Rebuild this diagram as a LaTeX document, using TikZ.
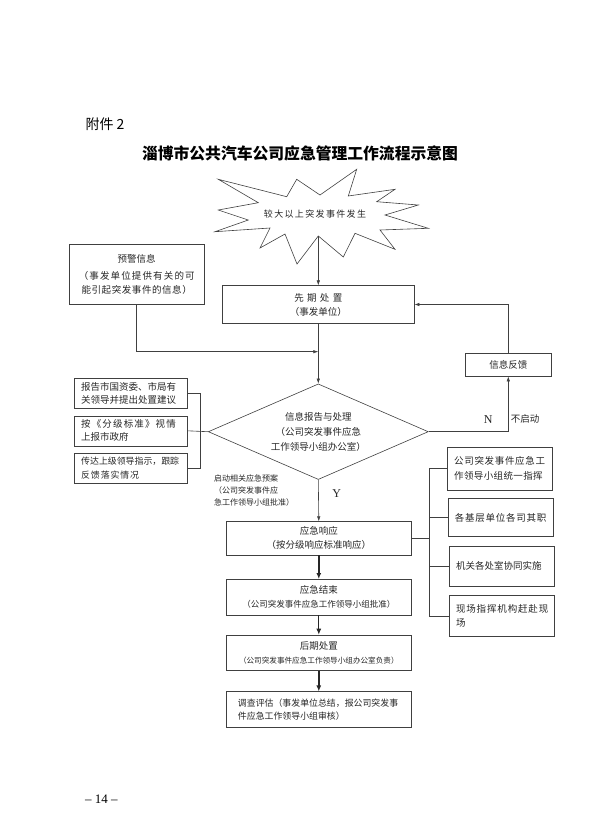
\documentclass[tikz,border=0pt]{standalone}
\usepackage{fontspec}
\setmainfont{Liberation Serif}
\newfontfamily\cjk{Noto Sans CJK SC}
\usetikzlibrary{shapes.geometric,arrows.meta}
\newcommand\widetxt[2]{{\addfontfeature{LetterSpace=#1}#2}}
\tikzset{
	box/.style={draw=black!75, line width=0.6pt, inner sep=0pt, align=center, text=black!85,
		font=\cjk\fontsize{9.5}{14}\selectfont},
	lbox/.style={box, align=left, text width=#1},
	ln/.style={draw=black!75, line width=0.6pt},
	arr/.style={ln, -{Latex[length=5pt,width=3.5pt]}},
	thickarr/.style={draw=black!85, line width=#1, -{Latex[length=6pt,width=5pt]}},
	lbl/.style={text=black!85, font=\cjk\fontsize{9.5}{14}\selectfont},
}

\begin{document}
\begin{tikzpicture}[x=1pt,y=-1pt]
	\useasboundingbox (0,0) rectangle (591,839);

	\node[anchor=west, font=\cjk\fontsize{14}{16}\selectfont] (annex) at (82,124) {附件 2};
	\node[font=\cjk\bfseries\fontsize{15.8}{20}\selectfont] (title) at (300,153.5) {淄博市公共汽车公司应急管理工作流程示意图};

	\draw[ln] (218.3,179.3) -- (286.7,196.7) -- (296.7,179.3) -- (320,195) -- (356.7,169.3)
		-- (348.3,196) -- (395,189.3) -- (376.7,201.7) -- (418.3,205) -- (385,215)
		-- (428.3,228.3) -- (380,230) -- (395,249.3) -- (355,233.3) -- (343.3,257)
		-- (318.3,236) -- (297,264) -- (285,234) -- (260,248) -- (270,228)
		-- (215,231.7) -- (248.3,220) -- (218.3,210) -- (258.3,202.7) -- cycle;
	\node[lbl, font=\cjk\fontsize{9}{12}\selectfont] (burst) at (315,214) {\widetxt{15}{较大以上突发事件发生}};
	\coordinate (burstb) at (318.3,236);

	\node[box, minimum width=191.7pt, minimum height=37.6pt] (first) at (318.3,304.5) {\widetxt{35}{先期处置}\\（事发单位）};
	\node[box, minimum width=134.7pt, minimum height=60pt] (warn) at (136.7,274.3)
		{预警信息\\[3pt]\widetxt{12}{（事发单位提供有关的可}\\\widetxt{6}{能引起突发事件的信息）}};
	\coordinate (join) at (318.3,351.7);

	\node[diamond, draw=black!75, line width=0.6pt, aspect=2.3, minimum width=220pt, minimum height=95.6pt,
		inner sep=0pt, align=center, text=black!85, font=\cjk\fontsize{9.5}{15}\selectfont] (info) at (318.3,431.7)
		{信息报告与处理\\（公司突发事件应急\\工作领导小组办公室）};

	\node[lbox=99pt, inner xsep=7pt, minimum height=30pt, font=\cjk\fontsize{9.5}{13}\selectfont] (report) at (130.7,393.3) {报告市国资委、市局有\\关领导并提出处置建议};
	\node[lbox=99pt, inner xsep=7pt, minimum height=30pt, font=\cjk\fontsize{9.5}{13}\selectfont] (grade) at (130.7,430.8) {\widetxt{12}{按《分级标准》视情}\\上报市政府};
	\node[lbox=99pt, inner xsep=7pt, minimum height=30pt, font=\cjk\fontsize{8.9}{14}\selectfont] (relay) at (130.7,468.3) {传达上级领导指示，跟踪\\\widetxt{10}{反馈落实情况}};
	\coordinate (lbus) at (200,0);

	\node[box, minimum width=86.7pt, minimum height=22.7pt] (fb) at (508.3,364.7) {信息反馈};
	\node[text=black!85, font=\fontsize{12}{14}\selectfont] (no) at (488.3,420) {N};
	\node[lbl] (nolaunch) at (525,419.3) {不启动};

	\node[anchor=west, align=left, text=black!85, font=\cjk\fontsize{8}{12}\selectfont] (launch) at (210.5,490)
		{启动相关应急预案\\（公司突发事件应\\急工作领导小组批准）};
	\node[text=black!85, font=\fontsize{12}{14}\selectfont] (yes) at (336.7,493.3) {Y};

	\node[box, minimum width=185.7pt, minimum height=33.3pt] (resp) at (318.8,538.3) {应急响应\\（按分级响应标准响应）};
	\node[box, minimum width=185.7pt, minimum height=35.7pt] (end) at (318.8,597.2)
		{应急结束\\{\fontsize{8.5}{13}\selectfont（公司突发事件应急工作领导小组批准）}};
	\node[box, minimum width=185.7pt, minimum height=35.7pt] (post) at (318.8,652.8)
		{后期处置\\{\fontsize{7.6}{13}\selectfont（公司突发事件应急工作领导小组办公室负责）}};
	\node[lbox=161.7pt, inner xsep=12pt, minimum height=35.6pt, font=\cjk\fontsize{8.9}{12.5}\selectfont] (survey) at (318.8,709.5)
		{调查评估（事发单位总结，报公司突发事\\件应急工作领导小组审核）};

	\node[lbox=92pt, inner xsep=6.5pt, minimum height=42.7pt, font=\cjk\fontsize{9.5}{15}\selectfont] (lead) at (500.2,468.7)
		{\widetxt{7}{公司突发事件应急工}\\\widetxt{4}{作领导小组统一指挥}};
	\node[lbox=92pt, inner xsep=6.5pt, minimum height=38.4pt] (units) at (500.8,517.5) {\widetxt{8}{各基层单位各司其职}};
	\node[lbox=92pt, inner xsep=6.5pt, minimum height=40pt] (depts) at (502,566) {机关各处室协同实施};
	\node[lbox=92pt, inner xsep=6.5pt, minimum height=41pt, font=\cjk\fontsize{9.5}{14}\selectfont] (site) at (502,616.2)
		{\widetxt{9}{现场指挥机构赶赴现}\\场};
	\coordinate (rbus) at (429.3,0);

	\node[anchor=west, font=\fontsize{13}{15}\selectfont] (page) at (81.7,799.3) {\textendash\ 14 \textendash};

	\draw[arr] (burstb) -- (first.north);
	\draw[ln] (first.south) -- (join);
	\draw[arr] (join) -- (info.north);
	\draw[arr] (warn.south) |- (join);

	\draw[ln] (report.east) -- (report.east -| lbus) -- (relay.east -| lbus) -- (relay.east);
	\draw[ln] (grade.east) -- (info.west);

	\draw[arr] (info.east) -| (fb.south);
	\draw[arr] (fb.north) |- (first.east);

	\draw[arr] (info.south) -- (resp.north);
	\draw[thickarr=1.5pt] (resp.south) -- (end.north);
	\draw[thickarr=1pt] (end.south) -- (post.north);
	\draw[thickarr=2.3pt] (post.south) -- (survey.north);

	\draw[ln] (resp.east) -- (resp.east -| rbus);
	\draw[ln] (lead.west) -- (lead.west -| rbus) -- (site.west -| rbus) -- (site.west);
	\draw[ln] (units.west) -- (units.west -| rbus);
	\draw[ln] (depts.west) -- (depts.west -| rbus);
\end{tikzpicture}
\end{document}
